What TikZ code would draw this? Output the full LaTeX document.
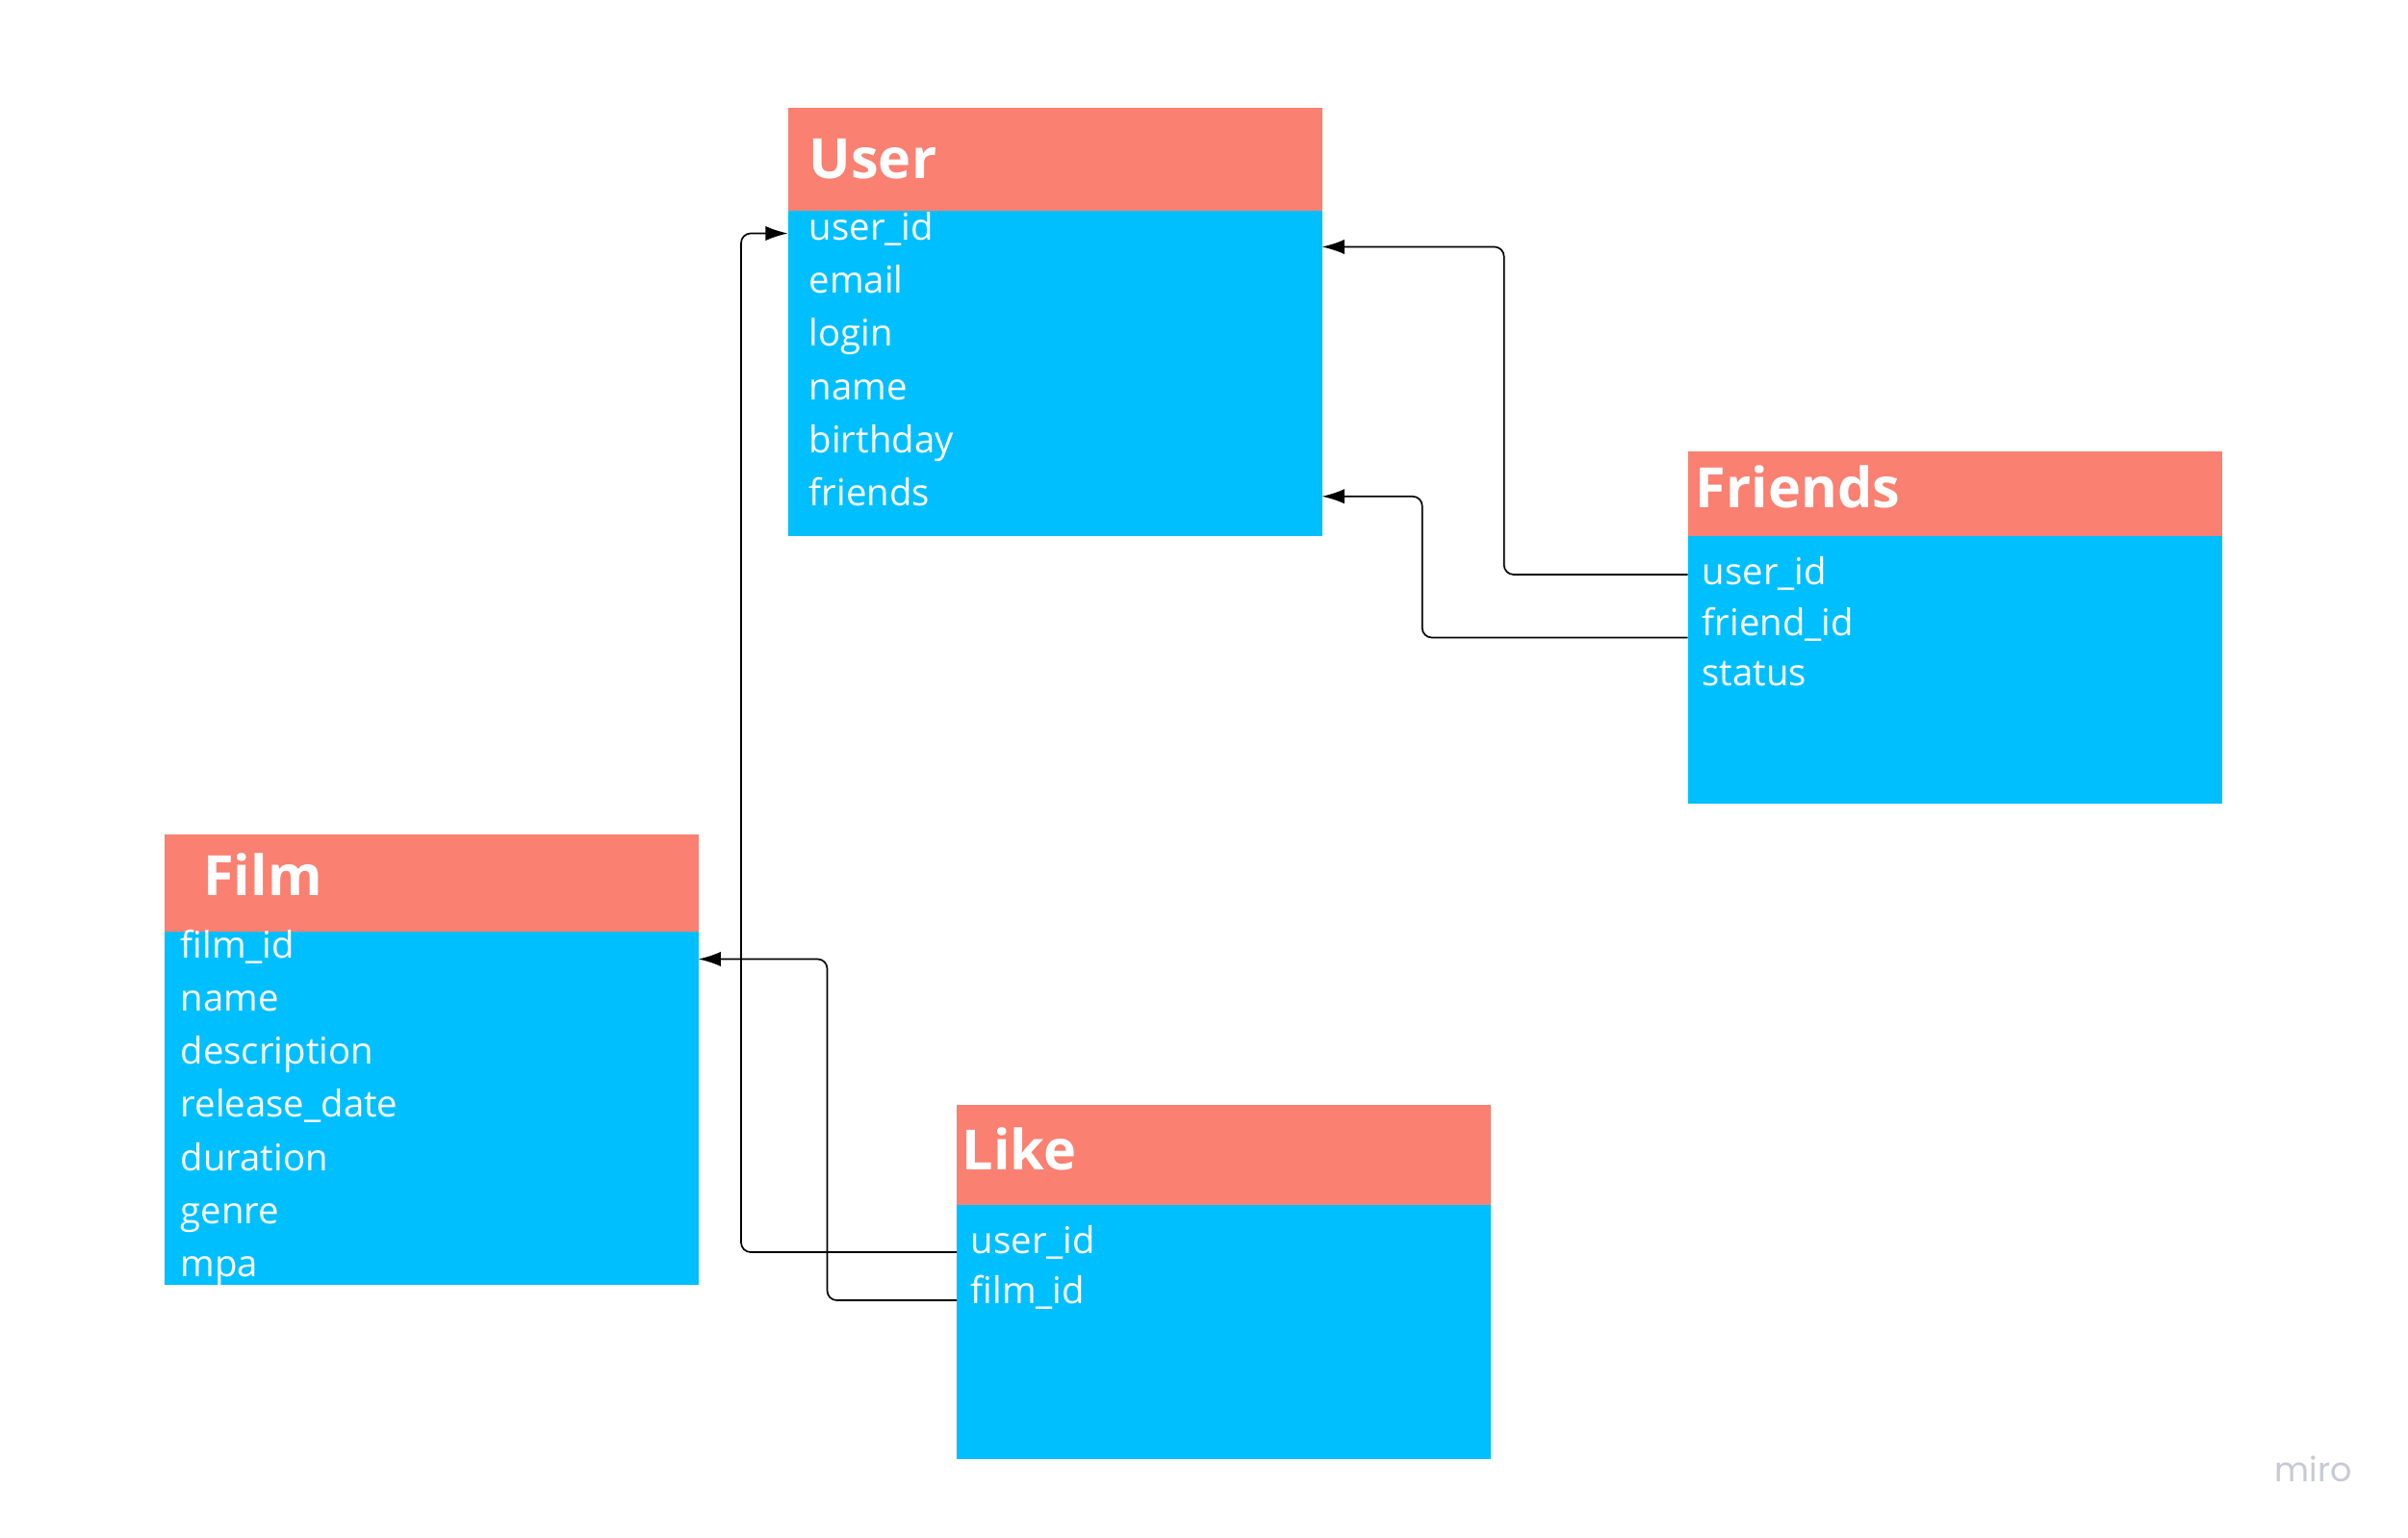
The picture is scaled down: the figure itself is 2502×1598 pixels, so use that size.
\documentclass[tikz,border=0pt]{standalone}
\usepackage{fontspec}
\setmainfont{Open Sans}
\newfontfamily\logofont{Poppins}
\usetikzlibrary{arrows.meta,positioning,calc}
\definecolor{salmon}{RGB}{250,128,114}
\definecolor{sky}{RGB}{0,191,255}
\definecolor{logo}{RGB}{201,201,214}
\tikzset{
  hdr/.style={fill=salmon,anchor=north west,minimum width=166.5pt,inner sep=0pt,outer sep=0pt},
  tbody/.style={fill=sky,anchor=north west,minimum width=166.5pt,inner sep=0pt,outer sep=0pt},
  ttl/.style={anchor=base west,inner sep=0pt,text=white,font=\fontsize{17.3}{20}\selectfont\bfseries},
  fld/.style={anchor=base west,inner sep=0pt,text=white,font=\fontsize{11.5}{14}\selectfont},
  rel/.style={-{Latex[length=7pt,width=4.6pt]},black,line width=0.5pt,rounded corners=3pt},
}

\begin{document}
\begin{tikzpicture}[x=0.3pt,y=-0.3pt]
  \useasboundingbox[fill=white] (0,0) rectangle (2502,1598);
  % tables
  \node[hdr,minimum height=32.1pt] (userH) at (818.6,111.7) {};
  \node[tbody,minimum height=101.4pt] (userB) at (userH.south west) {};
  \node[hdr,minimum height=26.25pt] (frH) at (1753.7,469.5) {};
  \node[tbody,minimum height=83.4pt] (frB) at (frH.south west) {};
  \node[hdr,minimum height=30.3pt] (filmH) at (170.6,866.5) {};
  \node[tbody,minimum height=110.1pt] (filmB) at (filmH.south west) {};
  \node[hdr,minimum height=31.05pt] (likeH) at (994,1148) {};
  \node[tbody,minimum height=79.35pt] (likeB) at (likeH.south west) {};
  % titles
  \node[ttl] (userT) at (840,186) {User};
  \node[ttl] (frT) at (1761,528) {Friends};
  \node[ttl] (filmT) at (210.6,930) {Film};
  \node[ttl] (likeT) at (999,1215) {Like};
  % fields
  \foreach \f [count=\i from 0] in {user\_id,email,login,name,birthday,friends}
    \node[fld] (us-\i) at (840,249.5+55.25*\i) {\f};
  \foreach \f [count=\i from 0] in {user\_id,friend\_id,status}
    \node[fld] (fr-\i) at (1768,608+52.5*\i) {\f};
  \foreach \f [count=\i from 0] in {film\_id,name,description,release\_date,duration,genre,mpa}
    \node[fld] (fm-\i) at (187,995+55.3*\i) {\f};
  \foreach \f [count=\i from 0] in {user\_id,film\_id}
    \node[fld] (lk-\i) at (1008,1302+52.5*\i) {\f};
  % relations
  \draw[rel] ($(lk-0.base -| likeB.west)+(0,-1)$) -- ++(-224,0)
    |- ($(us-0.base -| userB.west)+(0,-7)$);
  \draw[rel] ($(lk-1.base -| likeB.west)+(0,-3.5)$) -- ++(-134.5,0)
    |- ($(fm-0.base -| filmB.east)+(0,1.5)$);
  \draw[rel] ($(fr-0.base -| frB.west)+(0,-11)$) -- ++(-191,0)
    |- ($(us-0.base -| userB.east)+(0,7)$);
  \draw[rel] ($(fr-1.base -| frB.west)+(0,2)$) -- ++(-276,0)
    |- ($(us-5.base -| userB.east)+(0,-10)$);
  % watermark
  \node[anchor=base west,inner sep=0pt,text=logo,font=\logofont\fontsize{10.5}{12}\selectfont] (miro) at (2363,1539) {miro};
\end{tikzpicture}
\end{document}
